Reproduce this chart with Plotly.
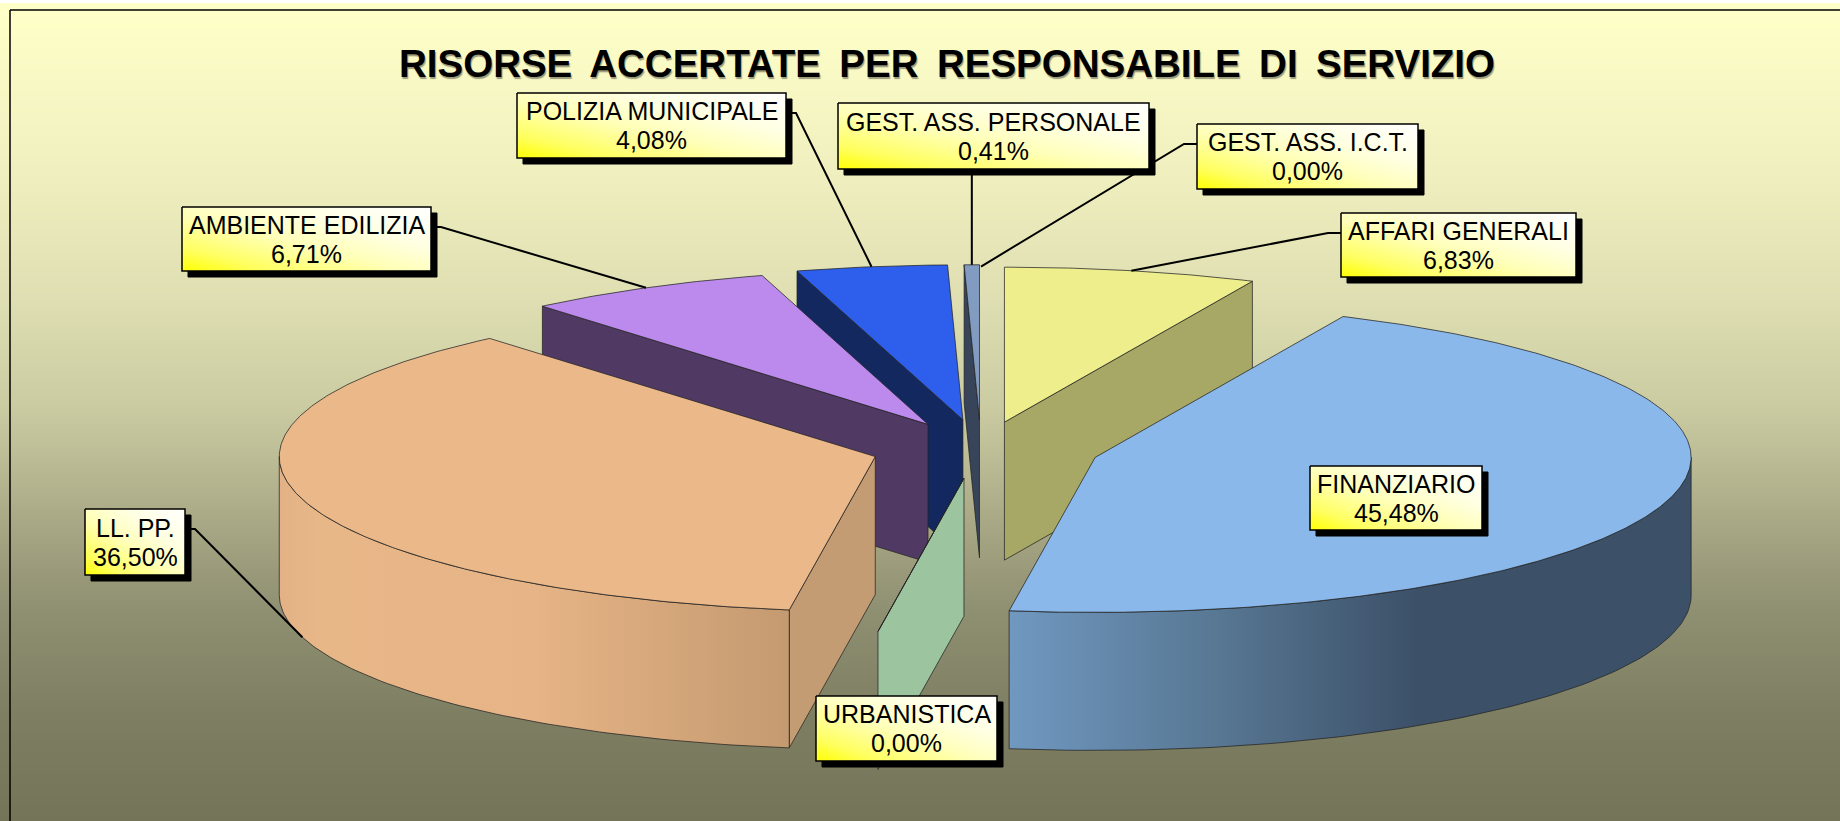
import numpy as np
import plotly.graph_objects as go

# ---- chart data ----
TITLE = "RISORSE\u2009 ACCERTATE\u2009 PER\u2009 RESPONSABILE\u2009 DI\u2009 SERVIZIO"
labels = ["AFFARI GENERALI", "FINANZIARIO", "URBANISTICA", "LL. PP.",
          "AMBIENTE EDILIZIA", "POLIZIA MUNICIPALE", "GEST. ASS. PERSONALE", "GEST. ASS. I.C.T."]
values = [6.83, 45.48, 0.00, 36.50, 6.71, 4.08, 0.41, 0.00]
pull = [110, 119, 118, 110, 112, 118, 117, 110]

# ---- styles ----
top_colors = ["#EEEE8C", "#8AB8EA", "#9CC49E", "#EBB88A", "#BB8AEC", "#2D5FEC", "#829BC0", "#829BC0"]
side_colors = ["#A8A866", "#3C5068", "#9CC49E", "#C49C74", "#503A64", "#12285F", "#38445A", "#38445A"]
wall_scales = {
    1: [[0, "#7098C0"], [0.3, "#587894"], [0.6, "#3C5068"], [1, "#3C5068"]],
    3: [[0, "#E2B286"], [0.08, "#E8B788"], [0.5, "#E6B486"], [1, "#C49A70"]],
}
box_pos = {  # left, top, right, bottom
    "AFFARI GENERALI": (1341, 213, 1576, 277),
    "FINANZIARIO": (1310, 466, 1482, 530),
    "URBANISTICA": (816, 696, 997, 761),
    "LL. PP.": (85, 509, 185, 575),
    "AMBIENTE EDILIZIA": (182, 207, 431, 271),
    "POLIZIA MUNICIPALE": (517, 93, 786, 158),
    "GEST. ASS. I.C.T.": (1197, 124, 1418, 189),
    "GEST. ASS. PERSONALE": (838, 103, 1149, 169),
}
CX, CY, RX, TILT, DEPTH = 981, 449, 596, 0.26, 138
RY = RX * TILT
W, H = 1840, 821
FONT = "Liberation Sans"
EDGE = "rgba(35,35,35,0.75)"

fig = go.Figure()


def poly(xs, ys, color, line=EDGE, **kw):
    fig.add_trace(go.Scatter(x=list(xs), y=list(ys), mode="lines", fill="toself",
                             fillcolor=color, line=dict(color=line, width=1),
                             hoverinfo="skip", showlegend=False, **kw))


# background
bg_rows = np.linspace(10, H, 60)
fig.add_trace(go.Heatmap(
    x=[10, W], y=bg_rows, z=[[r, r] for r in bg_rows], zsmooth="best", showscale=False, hoverinfo="skip",
    zmin=10, zmax=H,
    colorscale=[[0, "#FFFFC8"], [0.16, "#F3F3C2"], [0.36, "#DEDEB2"], [0.49, "#CBCBA2"],
                [0.62, "#ABAB88"], [0.74, "#8F8F72"], [0.87, "#7E7E62"], [1, "#747458"]]))

# slice geometry from the values
ends = np.cumsum(values) / sum(values) * 360
starts = np.concatenate([[0], ends[:-1]])
mids = (starts + ends) / 2


def center(i):
    m = np.radians(mids[i])
    return CX + pull[i] * np.sin(m), CY - pull[i] * 0.25 * np.cos(m)


def rim(i, deg):
    cx, cy = center(i)
    a = np.radians(deg)
    return cx + RX * np.sin(a), cy - RY * np.cos(a)


def draw_slice(i):
    a0, a1 = starts[i], ends[i]
    cx, cy = center(i)
    for deg, vis in ((a0, np.sin(np.radians(a0)) < 0), (a1, np.sin(np.radians(a1)) > 0)):
        if vis:
            rx, ry = rim(i, deg)
            poly([cx, rx, rx, cx, cx], [cy, ry, ry + DEPTH, cy + DEPTH, cy], side_colors[i])
    lo, hi = max(a0, 90), min(a1, 270)
    if hi > lo:
        t = np.linspace(lo, hi, 90)
        px, py = rim(i, t)
        xs = np.concatenate([px, px[::-1], px[:1]])
        ys = np.concatenate([py, py[::-1] + DEPTH, py[:1]])
        fig.add_trace(go.Scatter(
            x=xs, y=ys, mode="lines", fill="toself", line=dict(color=EDGE, width=1),
            fillgradient=dict(type="horizontal", colorscale=wall_scales[i]),
            hoverinfo="skip", showlegend=False))
    t = np.linspace(a0, a1, max(2, int((a1 - a0) * 2)))
    px, py = rim(i, t)
    poly(np.r_[cx, px, cx], np.r_[cy, py, cy], top_colors[i])


for i in [0, 6, 5, 4, 3, 2, 1]:
    draw_slice(i)

# leader lines
for i, name in enumerate(labels):
    if name in ("FINANZIARIO", "URBANISTICA"):
        continue
    l, t, r, b = box_pos[name]
    mx, my = rim(i, mids[i])
    if 90 < mids[i] < 270:
        my = my + DEPTH
    if name == "GEST. ASS. PERSONALE":
        lx, ly = [mx, mx], [b, my]
    elif mx < l:
        lx, ly = [l, l - 13, mx], [t + 20, t + 20, my]
    else:
        lx, ly = [r, r + 10, mx], [t + 20, t + 20, my]
    fig.add_trace(go.Scatter(x=lx, y=ly, mode="lines", line=dict(color="black", width=2),
                             hoverinfo="skip", showlegend=False))

# shadows of the label boxes
for name in labels:
    l, t, r, b = box_pos[name]
    poly([l + 6, r + 6, r + 6, l + 6, l + 6], [t + 6, t + 6, b + 6, b + 6, t + 6], "black", line="black")

# label boxes on an overlaid pair of axes, so they sit above the shadows
NX, NY = 24, 10
u, v = np.meshgrid((np.arange(NX) + 0.5) / NX, (np.arange(NY) + 0.5) / NY)
for name in labels:
    l, t, r, b = box_pos[name]
    fig.add_trace(go.Heatmap(
        x=l + (r - l) * (np.arange(NX) + 0.5) / NX, y=b - (b - t) * (np.arange(NY) + 0.5) / NY,
        z=(u + v) / 2, zmin=0, zmax=1, zsmooth="best",
        showscale=False, hoverinfo="skip", xaxis="x2", yaxis="y2",
        colorscale=[[0, "#FFFF00"], [0.18, "#FFFF60"], [0.45, "#FFFFB8"], [0.7, "#FFFFE4"], [1, "#FFFFFF"]]))
    fig.add_trace(go.Scatter(x=[l, r, r, l, l], y=[t, t, b, b, t], mode="lines",
                             line=dict(color="black", width=1.5), hoverinfo="skip",
                             showlegend=False, xaxis="x2", yaxis="y2"))

annotations = [dict(text=TITLE, x=947, y=63, xref="x", yref="y", showarrow=False,
                    font=dict(family="Liberation Sans", size=38.5, color="black", weight="bold",
                              shadow="1px 2px 1px #9a9a7c"))]
for i, name in enumerate(labels):
    l, t, r, b = box_pos[name]
    cx, cy = (l + r) / 2, (t + b) / 2
    pct = f"{values[i]:.2f}".replace(".", ",") + "%"
    for txt, y in ((name, cy - 14.5), (pct, cy + 14.5)):
        annotations.append(dict(text=txt, x=cx, y=y, xref="x", yref="y", showarrow=False,
                                font=dict(family=FONT, size=25, color="black")))

axis = dict(visible=False, fixedrange=True, showgrid=False, zeroline=False)
fig.update_layout(
    width=W, height=H, margin=dict(l=0, r=0, t=0, b=0), paper_bgcolor="white", plot_bgcolor="white",
    showlegend=False, annotations=annotations,
    xaxis=dict(range=[0, W], **axis), yaxis=dict(range=[H, 0], **axis),
    xaxis2=dict(range=[0, W], overlaying="x", **axis), yaxis2=dict(range=[H, 0], overlaying="y", **axis),
    shapes=[dict(type="line", x0=10, x1=W, y0=10, y1=10, line=dict(color="black", width=1.5)),
            dict(type="line", x0=10, x1=10, y0=10, y1=H, line=dict(color="black", width=1.5))])

fig.write_html("out.html", config=dict(displayModeBar=False),
               post_script="document.body.style.margin='0';document.body.style.overflow='hidden';")
